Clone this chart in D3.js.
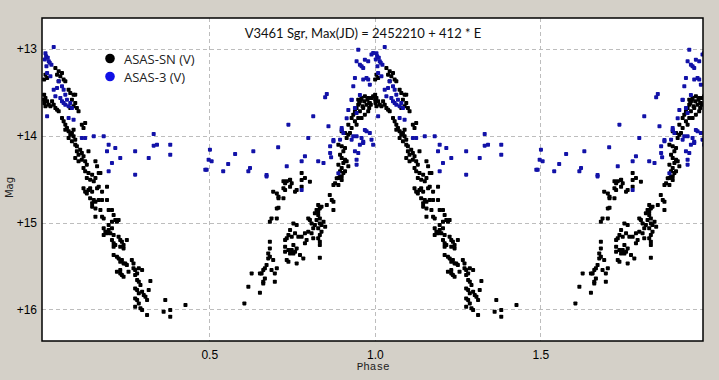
<!DOCTYPE html>
<html><head><meta charset="utf-8">
<script src="https://cdn.jsdelivr.net/npm/d3@7/dist/d3.min.js"></script>
<style>
html,body{margin:0;padding:0;background:#d4d0c8;}
svg{display:block;}
</style></head>
<body><svg id="c" width="719" height="380"></svg>
<script>
const title = "V3461 Sgr, Max(JD) = 2452210 + 412 * E";
const seriesNames = ["ASAS-SN (V)", "ASAS-3 (V)"];
const xTicks = [0.5, 1.0, 1.5];
const xTickLabels = ["0.5", "1.0", "1.5"];
const yTicks = [13, 14, 15, 16];
const yTickLabels = ["+13", "+14", "+15", "+16"];

// ASAS-SN (V): [phase, mag], phase in [0,1); plotted at phase and phase+1
const asassnPhase = [
[0.005,13.296],[0.010,13.334],[0.001,13.353],[0.035,13.219],[0.045,13.257],[0.040,13.296],[0.050,13.315],[0.055,13.277],[0.060,13.353],[0.065,13.373],[0.045,13.373],
[0.001,13.526],[0.005,13.565],[0.010,13.603],[0.002,13.622],[0.015,13.642],[0.020,13.661],[0.005,13.661],[0.001,13.584],[0.030,13.642],[0.035,13.680],[0.040,13.699],[0.045,13.718],[0.025,13.603],
[0.075,13.469],[0.080,13.507],[0.090,13.526],[0.095,13.526],[0.085,13.584],[0.095,13.622],[0.090,13.661],[0.100,13.680],[0.105,13.718],[0.080,13.680],
[0.055,13.795],[0.060,13.834],[0.065,13.872],[0.070,13.911],[0.075,13.949],[0.080,13.987],[0.085,13.968],[0.090,14.007],[0.095,14.045],[0.065,13.930],[0.075,14.026],[0.085,14.064],[0.095,14.103],[0.100,14.122],[0.090,13.930],
[0.115,13.872],[0.125,13.853],[0.120,13.911],
[0.100,14.179],[0.105,14.218],[0.110,14.160],[0.115,14.199],[0.120,14.237],[0.095,14.256],[0.105,14.295],[0.115,14.276],[0.125,14.295],[0.135,14.179],[0.130,14.333],[0.120,14.372],[0.125,14.410],[0.135,14.429],[0.146,14.448],[0.156,14.295],[0.161,14.352],[0.166,14.429],[0.171,14.429],[0.130,14.487],[0.140,14.506],[0.151,14.525],[0.156,14.487],
[0.120,14.606],[0.125,14.644],[0.135,14.625],[0.140,14.606],[0.146,14.644],[0.130,14.664],[0.161,14.606],[0.166,14.587],[0.176,14.644],[0.191,14.587],
[0.140,14.721],[0.151,14.740],[0.146,14.779],[0.156,14.760],[0.166,14.740],[0.176,14.740],[0.191,14.740],
[0.146,14.817],[0.156,14.837],[0.171,14.856],[0.196,14.856],[0.206,14.856],
[0.156,14.933],[0.176,14.933],[0.181,14.952],[0.211,14.914],[0.216,14.971],[0.206,14.991],[0.221,14.991],[0.226,14.971],
[0.181,15.067],[0.186,15.105],[0.191,15.124],[0.181,15.144],[0.196,15.086],[0.206,15.067],[0.201,15.124],[0.211,15.144],[0.196,15.029],
[0.206,15.202],[0.211,15.240],[0.216,15.259],[0.226,15.163],[0.231,15.202],[0.236,15.221],[0.241,15.259],[0.251,15.202],[0.231,15.279],[0.241,15.298],[0.211,15.279],
[0.211,15.374],[0.221,15.394],[0.226,15.413],[0.231,15.452],[0.236,15.432],[0.241,15.471],[0.251,15.490],[0.266,15.432],[0.271,15.471],[0.246,15.471],
[0.221,15.567],[0.231,15.586],[0.236,15.605],[0.241,15.625],[0.231,15.548],[0.256,15.567],[0.271,15.528],[0.276,15.548],[0.282,15.586],[0.287,15.528],[0.297,15.548],[0.276,15.605],
[0.282,15.663],[0.287,15.682],[0.292,15.721],[0.276,15.759],[0.282,15.778],[0.297,15.797],[0.302,15.836],[0.307,15.855],[0.312,15.893],[0.317,15.778],[0.322,15.675],[0.287,15.816],
[0.276,15.874],[0.282,15.893],[0.287,15.932],[0.276,15.970],[0.292,15.989],[0.297,16.008],
[0.312,16.066],[0.367,15.893],[0.362,16.028],[0.382,16.008],[0.382,16.085],[0.428,15.951],
[0.606,15.932],[0.618,15.740],[0.628,15.586],[0.653,15.586],[0.653,15.809],[0.658,15.586],[0.663,15.548],[0.668,15.528],[0.673,15.490],[0.688,15.548],[0.698,15.586],[0.704,15.528],[0.668,15.644],[0.663,15.682],[0.663,15.702],[0.698,15.682],
[0.683,15.221],[0.683,15.298],[0.678,15.356],[0.683,15.394],[0.693,15.432],[0.678,15.413],
[0.729,15.279],[0.729,15.336],[0.739,15.317],[0.744,15.356],[0.749,15.317],[0.754,15.356],[0.759,15.336],[0.764,15.298],[0.754,15.259],[0.774,15.374],[0.784,15.413],[0.734,15.432],[0.739,15.452],[0.764,15.471],[0.834,15.405],
[0.754,15.010],[0.764,15.029],[0.744,15.086],[0.739,15.144],[0.734,15.182],[0.729,15.202],[0.749,15.163],[0.759,15.124],[0.769,15.163],[0.779,15.163],[0.789,15.124],[0.794,15.202],[0.789,15.240],[0.799,15.105],[0.809,15.124],[0.814,15.182],[0.834,15.221],[0.834,15.259],[0.829,15.182],
[0.829,14.798],[0.834,14.837],[0.839,14.817],[0.824,14.856],[0.819,14.894],[0.829,14.914],[0.834,14.952],[0.824,14.971],[0.834,15.010],[0.839,15.029],[0.819,15.029],[0.809,15.010],[0.804,14.971],[0.799,14.952],[0.814,15.067],[0.829,15.067],[0.839,15.105],[0.834,15.144],[0.850,15.048],[0.845,14.991],[0.855,14.798],[0.829,14.875],
[0.693,14.644],[0.704,14.664],[0.709,14.702],[0.709,14.721],[0.724,14.721],[0.704,14.837],[0.709,14.829],[0.683,14.991],[0.688,14.952],[0.704,14.952],
[0.744,14.510],[0.749,14.548],[0.744,14.587],[0.729,14.548],[0.724,14.606],[0.729,14.625],[0.779,14.510],[0.779,14.587],[0.764,14.625],[0.804,14.529],[0.759,14.644],
[0.779,14.429],[0.744,14.506],[0.734,14.525],[0.724,14.525],[0.789,14.487],
[0.864,14.683],[0.870,14.740],[0.875,14.760],[0.875,14.856],[0.875,14.568],[0.880,14.548],[0.890,14.568],[0.885,14.491],[0.895,14.472],[0.900,14.510],
[0.890,14.103],[0.900,14.122],[0.910,14.141],[0.905,14.179],[0.895,14.218],[0.900,14.256],[0.910,14.276],[0.905,14.314],[0.890,14.333],[0.900,14.372],[0.895,14.410],[0.905,14.429],[0.900,14.468],[0.890,14.487],[0.910,14.410],[0.915,14.295],[0.920,14.352],
[0.900,13.949],[0.910,13.968],[0.920,13.987],[0.915,14.026],[0.925,13.968],[0.930,13.911],[0.920,13.872],[0.930,13.795],[0.935,13.757],[0.940,13.718],[0.945,13.680],[0.950,13.642],[0.955,13.603],[0.960,13.565],[0.970,13.546],[0.980,13.565],[0.990,13.565],[0.995,13.546],[0.985,13.622],[0.975,13.642],[0.965,13.680],[0.955,13.718],[0.950,13.795],[0.940,13.834],[0.945,13.872],[0.960,13.795],[0.970,13.757],[0.980,13.718],
[0.958,13.584],[0.968,13.603],[0.978,13.584],[0.983,13.622],[0.988,13.642],[0.953,13.622],[0.963,13.661],[0.983,13.680],[0.950,13.584]
];

// ASAS-3 (V): [phase, mag]
const asas3Phase = [
[0.030,12.977],[0.007,13.085],[0.015,13.142],[0.023,13.181],[0.010,13.277],[0.020,13.315],[0.045,13.373],[0.040,13.450],[0.030,13.469],[0.055,13.430],[0.060,13.469],[0.065,13.526],[0.035,13.546],[0.050,13.565],[0.055,13.603],[0.060,13.622],[0.065,13.642],[0.075,13.661],[0.085,13.680],[0.080,13.622],[0.070,13.584],
[0.005,13.050],[0.012,13.100],[0.018,13.160],[0.008,13.200],[0.003,13.120],
[0.010,13.776],[0.075,13.795],[0.090,13.815],[0.115,14.026],[0.125,14.026],[0.151,14.007],[0.181,14.007],[0.196,14.103],[0.216,14.141],[0.191,14.179],[0.231,14.256],[0.206,14.314],[0.196,14.410],[0.276,14.179],[0.276,14.448],[0.317,14.256],[0.332,13.980],[0.332,14.114],[0.342,14.103],[0.382,14.103],[0.382,14.218],[0.498,14.276],[0.488,14.391],
[0.502,14.160],[0.507,14.295],[0.492,14.391],[0.542,14.410],[0.557,14.325],[0.578,14.210],[0.618,14.410],[0.623,14.372],[0.633,14.179],[0.673,14.468],[0.708,14.133],[0.734,14.352],[0.739,13.872],[0.779,14.295],[0.789,14.237],[0.799,14.026],[0.814,13.776],[0.829,14.295],[0.845,14.314],[0.850,13.557],[0.855,13.519],[0.860,13.891],[0.865,14.122],[0.865,14.199],[0.868,14.249],[0.875,14.064],[0.900,13.911],[0.895,14.045],[0.905,13.968],
[0.930,13.584],[0.940,13.680],[0.945,13.738],[0.940,14.179],[0.945,14.276],[0.945,14.333],[0.950,14.199],[0.930,14.045],[0.935,14.007],[0.945,14.007],
[0.950,13.008],[0.945,13.142],[0.955,13.181],[0.960,13.200],[0.965,13.219],[0.970,13.123],[0.980,13.142],[0.975,13.334],[0.980,13.353],[0.985,13.411],[0.990,13.065],[0.995,13.046],[0.940,13.334],[0.935,13.430],[0.965,13.353],
[0.975,13.949],[0.985,13.968],[0.990,14.045],[0.995,14.103],[0.960,14.026],[0.965,14.083],[0.955,14.103],
[0.955,13.530],[0.930,13.588],[0.920,13.703],[0.915,13.799],[0.900,13.934],[0.875,14.049],[0.890,14.433],[0.970,13.934],[0.965,14.068],
[0.673,14.452],[0.779,14.625]
];

const W = 719, H = 380;
const L = 42, T = 18, R = 703, B = 341;
const svg = d3.select("#c");
svg.append("rect").attr("width", W).attr("height", H).attr("fill", "#d4d0c8");

const x = d3.scaleLinear().domain([-0.0054, 1.9915]).range([L, R]);
const y = d3.scaleLinear().domain([12.643, 16.365]).range([T, B]);

svg.append("rect").attr("x", L).attr("y", T).attr("width", R - L).attr("height", B - T).attr("fill", "#fff");

svg.append("defs").append("clipPath").attr("id", "clip")
  .append("rect").attr("x", L).attr("y", T).attr("width", R - L).attr("height", B - T);

// grid
const grid = svg.append("g");
grid.selectAll("line.gx").data(xTicks).join("line")
  .attr("x1", d => Math.round(x(d)) + 0.5).attr("x2", d => Math.round(x(d)) + 0.5)
  .attr("y1", T).attr("y2", B)
  .attr("stroke", "#bdbdbd").attr("stroke-dasharray", "4,3").attr("stroke-width", 1);
grid.selectAll("line.gy").data(yTicks).join("line")
  .attr("y1", d => Math.round(y(d)) + 0.5).attr("y2", d => Math.round(y(d)) + 0.5)
  .attr("x1", L).attr("x2", R)
  .attr("stroke", "#bdbdbd").attr("stroke-dasharray", "4,3").attr("stroke-width", 1);

// data (two cycles)
function twoCycles(arr) {
  const out = [];
  arr.forEach(d => { out.push([d[0], d[1]]); out.push([d[0] + 1, d[1]]); });
  return out;
}
const pts = svg.append("g").attr("clip-path", "url(#clip)");
pts.selectAll("rect.sn").data(twoCycles(asassnPhase)).join("rect")
  .attr("x", d => x(d[0]) - 2).attr("y", d => y(d[1]) - 2)
  .attr("width", 4).attr("height", 4).attr("rx", 0.8)
  .attr("fill", "#000");
pts.selectAll("rect.a3").data(twoCycles(asas3Phase)).join("rect")
  .attr("x", d => x(d[0]) - 2).attr("y", d => y(d[1]) - 2)
  .attr("width", 4).attr("height", 4).attr("rx", 0.8)
  .attr("fill", "#1212a8");

// frame
svg.append("rect").attr("x", L).attr("y", T).attr("width", R - L).attr("height", B - T)
  .attr("fill", "none").attr("stroke", "#000").attr("stroke-width", 1.5);

// axes labels via d3 axes (no tick lines)
const xAxis = d3.axisBottom(x).tickValues(xTicks).tickFormat((d, i) => xTickLabels[i]).tickSize(0).tickPadding(9);
const gx = svg.append("g").attr("transform", `translate(0,${B})`).call(xAxis);
gx.select(".domain").remove();
gx.selectAll("text").attr("font-family", "Liberation Sans, Arial, sans-serif").attr("font-size", 12).attr("fill", "#000");

const yAxis = d3.axisLeft(y).tickValues(yTicks).tickFormat((d, i) => yTickLabels[i]).tickSize(0).tickPadding(5);
const gy = svg.append("g").attr("transform", `translate(${L},0)`).call(yAxis);
gy.select(".domain").remove();
gy.selectAll("text").attr("font-family", "Liberation Sans, Arial, sans-serif").attr("font-size", 12).attr("fill", "#000");

svg.append("text").attr("x", x(0.995)).attr("y", 370).attr("text-anchor", "middle")
  .attr("font-family", "Liberation Mono, Courier New, monospace").attr("font-size", 11).attr("fill", "#222")
  .text("Phase");
svg.append("text").attr("transform", `translate(13,${(T + B) / 2 + 8}) rotate(-90)`).attr("text-anchor", "middle")
  .attr("font-family", "DejaVu Sans, sans-serif").attr("font-size", 10).attr("fill", "#222")
  .text("Mag");

// title
svg.append("text").attr("x", 363).attr("y", 38).attr("text-anchor", "middle")
  .attr("font-family", "Lato, Open Sans, sans-serif").attr("font-size", 13).attr("fill", "#111")
  .text(title);

// legend
const legColors = ["#000", "#1010e6"];
const lg = svg.append("g");
seriesNames.forEach((n, i) => {
  lg.append("circle").attr("cx", 110).attr("cy", 58.5 + i * 18).attr("r", 4.8).attr("fill", legColors[i]);
  lg.append("text").attr("x", 124).attr("y", 63.5 + i * 18)
    .attr("font-family", "Open Sans, sans-serif").attr("font-size", 13).attr("fill", "#222").text(n);
});
</script></body></html>
